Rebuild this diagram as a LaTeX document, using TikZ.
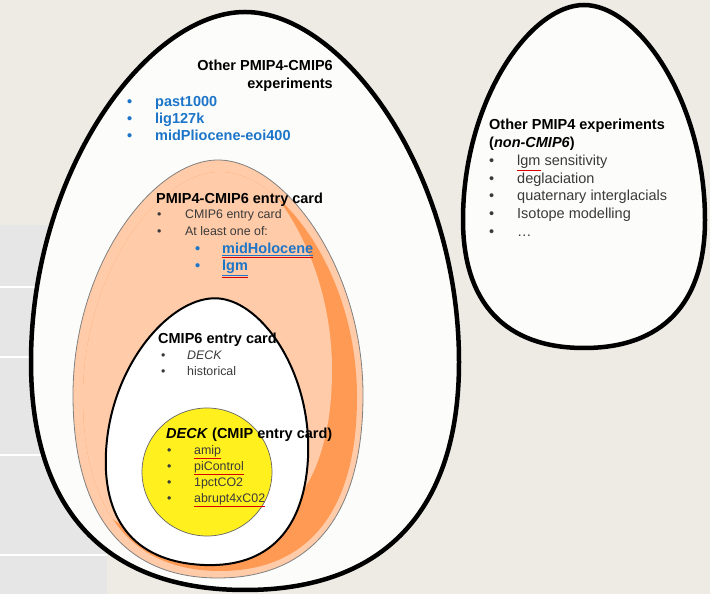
\documentclass[tikz,border=0pt]{standalone}
\usepackage{fontspec}
\setmainfont{Liberation Sans}

\definecolor{bgbeige}{HTML}{EEEBE5}
\definecolor{panelgray}{HTML}{E6E6E6}
\definecolor{shellwhite}{HTML}{FCFCFA}
\definecolor{orangelight}{HTML}{FFCBA8}
\definecolor{orangedark}{HTML}{FF9A55}
\definecolor{yolk}{HTML}{FFF01E}
\definecolor{linkblue}{HTML}{1C75C8}
\definecolor{itemgray}{HTML}{3A3A3A}

% egg: options, centre x, centre y, half width, top height, bottom height
\newcommand\egg[6]{\path[#1] (#2+#4,#3)
  .. controls (#2+#4,#3+0.55*#5) and (#2+0.45*#4,#3+#5) .. (#2,#3+#5)
  .. controls (#2-0.45*#4,#3+#5) and (#2-#4,#3+0.55*#5) .. (#2-#4,#3)
  .. controls (#2-#4,#3-0.65*#6) and (#2-0.65*#4,#3-#6) .. (#2,#3-#6)
  .. controls (#2+0.65*#4,#3-#6) and (#2+#4,#3-0.65*#6) .. (#2+#4,#3) -- cycle;}
\newcommand\blt[1][27pt]{\makebox[#1][l]{\textbullet}}
\newcommand\spellul[1]{\textcolor{red!85!black}{\underline{\textcolor{itemgray}{#1}}}}
\newcommand\linkul[1]{\textcolor{red!85!black}{\underline{\textcolor{linkblue}{\underline{#1}}}}}
\newcommand\headfont{\fontsize{14.5}{18}\selectfont\bfseries}
\newcommand\itemfont{\fontsize{12.4}{16.5}\selectfont}

\begin{document}
\begin{tikzpicture}[x=1pt, y=1pt]
\useasboundingbox (0,0) rectangle (710,594);

% background and the grey panel on the left
\fill[bgbeige] (0,0) rectangle (710,594);
\fill[panelgray] (0,0) rectangle (107,369);
\foreach \ly in {307,237,139,39}
  \fill[white] (0,\ly-1.2) rectangle (107,\ly+1.2);

% outer eggs
\egg{draw=black, line width=4.5pt, fill=shellwhite}{245}{232}{214}{350}{228}
\egg{draw=black, line width=4.5pt, fill=shellwhite}{584}{374}{121}{215}{128}

% PMIP4-CMIP6 egg with its darker crescent
\egg{draw=gray, line width=0.8pt, fill=orangelight}{218}{199}{145}{235}{183}
\begin{scope}
  \egg{clip}{220}{197}{137}{225}{174}
  \fill[orangedark] (0,0) rectangle (710,594);
  \egg{fill=orangelight}{195}{224}{137}{225}{174}
\end{scope}

% CMIP6 egg and the DECK yolk
\egg{draw=black, line width=2pt, fill=white, rotate around={-4:(207,139)}}{207}{139}{101}{157}{110}
\draw[fill=yolk, draw=black!60, line width=0.7pt] (207,122) ellipse [x radius=65, y radius=64];

% texts
\node (othertitle) [anchor=north east, align=right, inner sep=0, font=\headfont] at (333,534) {Other PMIP4-CMIP6\\experiments};
\node (otherlist) [anchor=north west, align=left, inner sep=0, text=linkblue, font=\fontsize{14.5}{17}\selectfont\bfseries] at (127,498) {\blt[28pt]past1000\\\blt[28pt]lig127k\\\blt[28pt]midPliocene-eoi400};

\node (pmipfour) [anchor=north west, align=left, inner sep=0, font=\fontsize{14.5}{17.8}\selectfont] at (489,475)
  {\textbf{Other PMIP4 experiments}\\\textbf{(\textit{non-CMIP6})}\\
   \textcolor{itemgray}{\blt[28pt]\spellul{lgm} sensitivity}\\
   \textcolor{itemgray}{\blt[28pt]deglaciation}\\
   \textcolor{itemgray}{\blt[28pt]quaternary interglacials}\\
   \textcolor{itemgray}{\blt[28pt]Isotope modelling}\\
   \textcolor{itemgray}{\blt[28pt]\dots}};

\node (entrytitle) [anchor=north west, inner sep=0, font=\headfont] at (156,401) {PMIP4-CMIP6 entry card};
\node (entrylist) [anchor=north west, align=left, inner sep=0, text=itemgray, font=\fontsize{12.4}{17}\selectfont] at (157,384.5) {\blt[28pt]CMIP6 entry card\\\blt[28pt]At least one of:};
\node (entrysub) [anchor=north west, align=left, inner sep=0, text=linkblue, font=\fontsize{14.5}{17}\selectfont\bfseries] at (195,351) {\blt\linkul{midHolocene}\\\blt\linkul{lgm}};

\node (cmiptitle) [anchor=north west, inner sep=0, font=\headfont] at (158,261) {CMIP6 entry card};
\node (cmiplist) [anchor=north west, align=left, inner sep=0, text=itemgray, font=\itemfont] at (161,243.5) {\blt[26pt]\textit{DECK}\\\blt[26pt]historical};

\node (decktitle) [anchor=north west, inner sep=0, font=\headfont] at (166,166) {\textit{DECK} (CMIP entry card)};
\node (decklist) [anchor=north west, align=left, inner sep=0, text=itemgray, font=\fontsize{12.4}{16}\selectfont] at (167,148.5) {\blt\spellul{amip}\\\blt\spellul{piControl}\\\blt 1pctCO2\\\blt\spellul{abrupt4xC02}};

\end{tikzpicture}
\end{document}
